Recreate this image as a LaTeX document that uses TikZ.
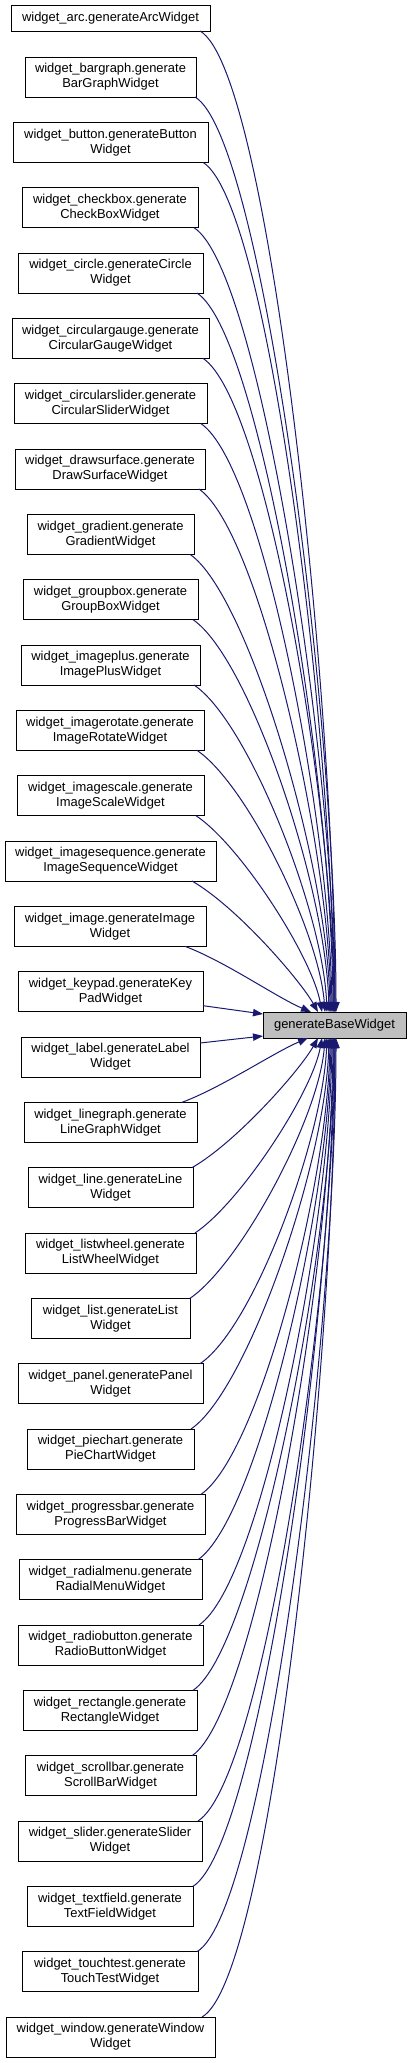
\documentclass[tikz,border=0pt]{standalone}
\usepackage{fontspec}
\setmainfont{Liberation Sans}
\usetikzlibrary{arrows.meta,calc}
\definecolor{edgeblue}{HTML}{191970}
\definecolor{basefill}{HTML}{BFBFBF}
\tikzset{
  wbox/.style={draw=black, line width=0.75pt, fill=white, inner sep=0pt, outer sep=0pt,
    minimum height=30pt, align=center, font=\fontsize{9.7}{11.25}\selectfont},
  edge/.style={draw=edgeblue, line width=0.75pt, -{Triangle[length=7.5pt,width=5.5pt]}}
}
\newcommand{\wnode}[5]{%
  \pgfmathsetmacro{\wnX}{(#3+#4)/2}%
  \pgfmathsetmacro{\wnY}{77+65.3333*(#2-1)}%
  \pgfmathsetmacro{\wnW}{(#4-#3)*0.75}%
  \node[wbox, minimum width=\wnW pt] (#1) at (\wnX,\wnY) {#5};}
% top edge: name, xshift, tip x, c1x, c1y, c2x, c2y
\newcommand{\topedge}[7]{%
  \draw[edge] ($(#1.south east)+(#2,0)$) .. controls +(#4,#5) and +(#6,#7) .. ($(base.north west)+(#3-263,0)$);}
\newcommand{\botedge}[7]{%
  \draw[edge] ($(#1.north east)+(#2,0)$) .. controls +(#4,#5) and +(#6,#7) .. ($(base.south west)+(#3-263,0)$);}
\begin{document}
\begin{tikzpicture}[x=0.75pt,y=-0.75pt]
\useasboundingbox (0,0) rectangle (412,2063);
% target
\node[wbox, fill=basefill, minimum width=107.25pt, minimum height=19.5pt] (base) at (334.5,1025) {generateBaseWidget};
% callers
\node[wbox, minimum width=149.25pt, minimum height=19.5pt] (arc) at (110.5,18) {widget\_arc.generateArcWidget};
\wnode{bargraph}{1}{25}{196}{widget\_bargraph.generate\\BarGraphWidget}
\wnode{button}{2}{13}{208}{widget\_button.generateButton\\Widget}
\wnode{checkbox}{3}{22}{198}{widget\_checkbox.generate\\CheckBoxWidget}
\wnode{circle}{4}{18}{203}{widget\_circle.generateCircle\\Widget}
\wnode{circulargauge}{5}{12}{209}{widget\_circulargauge.generate\\CircularGaugeWidget}
\wnode{circularslider}{6}{14}{207}{widget\_circularslider.generate\\CircularSliderWidget}
\wnode{drawsurface}{7}{15}{205}{widget\_drawsurface.generate\\DrawSurfaceWidget}
\wnode{gradient}{8}{27}{194}{widget\_gradient.generate\\GradientWidget}
\wnode{groupbox}{9}{23}{198}{widget\_groupbox.generate\\GroupBoxWidget}
\wnode{imageplus}{10}{21}{200}{widget\_imageplus.generate\\ImagePlusWidget}
\wnode{imagerotate}{11}{16}{204}{widget\_imagerotate.generate\\ImageRotateWidget}
\wnode{imagescale}{12}{17}{204}{widget\_imagescale.generate\\ImageScaleWidget}
\wnode{imagesequence}{13}{5}{216}{widget\_imagesequence.generate\\ImageSequenceWidget}
\wnode{image}{14}{14}{206}{widget\_image.generateImage\\Widget}
\wnode{keypad}{15}{18}{203}{widget\_keypad.generateKey\\PadWidget}
\wnode{label}{16}{21}{200}{widget\_label.generateLabel\\Widget}
\wnode{linegraph}{17}{24}{197}{widget\_linegraph.generate\\LineGraphWidget}
\wnode{line}{18}{28}{193}{widget\_line.generateLine\\Widget}
\wnode{listwheel}{19}{25}{196}{widget\_listwheel.generate\\ListWheelWidget}
\wnode{list}{20}{31}{190}{widget\_list.generateList\\Widget}
\wnode{panel}{21}{18}{203}{widget\_panel.generatePanel\\Widget}
\wnode{piechart}{22}{27}{194}{widget\_piechart.generate\\PieChartWidget}
\wnode{progressbar}{23}{16}{205}{widget\_progressbar.generate\\ProgressBarWidget}
\wnode{radialmenu}{24}{19}{202}{widget\_radialmenu.generate\\RadialMenuWidget}
\wnode{radiobutton}{25}{18}{203}{widget\_radiobutton.generate\\RadioButtonWidget}
\wnode{rectangle}{26}{23}{197}{widget\_rectangle.generate\\RectangleWidget}
\wnode{scrollbar}{27}{25}{196}{widget\_scrollbar.generate\\ScrollBarWidget}
\wnode{slider}{28}{18}{202}{widget\_slider.generateSlider\\Widget}
\wnode{textfield}{29}{27}{193}{widget\_textfield.generate\\TextFieldWidget}
\wnode{touchtest}{30}{22}{198}{widget\_touchtest.generate\\TouchTestWidget}
\wnode{window}{31}{6}{215}{widget\_window.generateWindow\\Widget}
% edges from callers above
\topedge{arc}{-10}{335}{70}{40}{0}{-310}
\topedge{bargraph}{-1}{336}{68}{40}{0}{-293}
\topedge{button}{-5}{334}{67}{42}{-1}{-272}
\topedge{checkbox}{-4}{335}{66}{42}{-1}{-251}
\topedge{circle}{-6}{333}{64}{42}{-1}{-230}
\topedge{circulargauge}{-6}{334}{63}{42}{-1}{-209}
\topedge{circularslider}{-6}{332}{62}{42}{-2}{-188}
\topedge{drawsurface}{-6}{331}{60}{42}{-2}{-167}
\topedge{gradient}{-4}{330}{58}{40}{-2}{-146}
\topedge{groupbox}{-5}{329}{56}{38}{-3}{-125}
\topedge{imageplus}{-6}{327}{54}{36}{-4}{-100}
\topedge{imagerotate}{-7}{325}{50}{34}{-6}{-80}
\topedge{imagescale}{-8}{322}{45}{30}{-10}{-55}
\topedge{imagesequence}{-24}{318}{45}{26}{-18}{-32}
\topedge{image}{-21}{311}{40}{15}{-35}{-15}
% straight edges
\draw[edge] ($(keypad.south east)+(0,-6)$) -- ($(base.west)+(0,-11)$);
\draw[edge] ($(label.north east)+(0,6)$) -- ($(base.west)+(0,11)$);
% edges from callers below
\botedge{linegraph}{-15}{308}{40}{-15}{-35}{15}
\botedge{line}{-1}{318}{45}{-26}{-18}{32}
\botedge{listwheel}{-1}{322}{45}{-30}{-10}{55}
\botedge{list}{0}{325}{50}{-34}{-6}{80}
\botedge{panel}{-3}{327}{54}{-36}{-4}{100}
\botedge{piechart}{-3}{329}{56}{-38}{-3}{125}
\botedge{progressbar}{-4}{330}{58}{-40}{-2}{146}
\botedge{radialmenu}{-4}{331}{60}{-42}{-2}{167}
\botedge{radiobutton}{-4}{332}{62}{-42}{-2}{188}
\botedge{rectangle}{-4}{334}{63}{-42}{-1}{209}
\botedge{scrollbar}{-4}{333}{64}{-42}{-1}{230}
\botedge{slider}{-4}{335}{66}{-42}{-1}{251}
\botedge{textfield}{0}{334}{67}{-42}{-1}{272}
\botedge{touchtest}{-1}{336}{68}{-40}{0}{293}
\botedge{window}{-13}{335}{70}{-40}{0}{310}
\end{tikzpicture}
\end{document}
